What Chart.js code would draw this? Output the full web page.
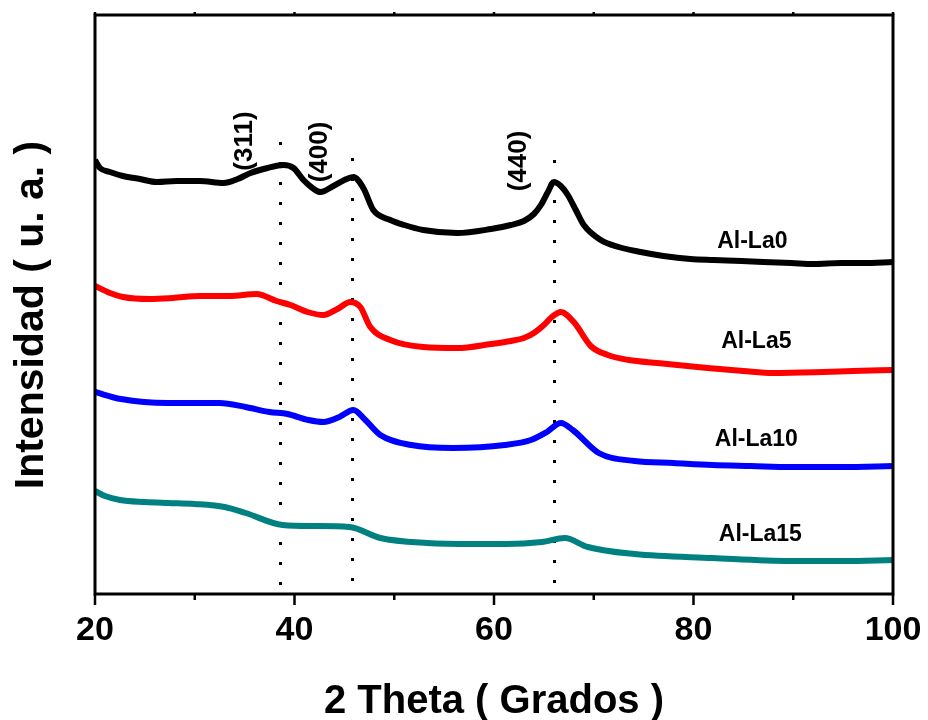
<!DOCTYPE html>
<html lang="es">
<head>
<meta charset="UTF-8">
<title>DRX Al-La</title>
<style>
  body { margin: 0; background: #fff; }
  .containerCanva { position: relative; width: 928px; height: 720px; }
</style>
</head>
<body>
<div class="containerCanva"><canvas id="myChart"></canvas></div>
<script src="https://cdn.jsdelivr.net/npm/chart.js@4/dist/chart.umd.min.js"></script>
<script>
// muestras
const muestras = ['Al-La0', 'Al-La5', 'Al-La10', 'Al-La15'];
const colores = ['#000000', '#ff0000', '#0000ff', '#008080'];

// 2 theta / intensidad (u. a.)
const x_La0 = [20, 20.5, 21.5, 22.8, 24.5, 26.2, 28.2, 30.5, 32.9, 34.3, 35.6, 37.3, 38.9, 39.9, 40.9, 41.8, 42.6, 43.9, 45, 45.9, 46.9, 47.9, 49.6, 51, 52.9, 56.3, 59.7, 61.7, 63, 64, 64.7, 65.4, 66, 66.7, 67.4, 68.2, 69, 70.7, 72.5, 74.7, 77, 79.7, 82, 84.8, 87, 89.8, 92, 94.8, 97, 100];
const y_La0 = [434, 426, 422, 418, 415, 412, 413, 413, 411, 415, 421, 426, 429, 426, 414, 406, 402, 408, 414, 417, 406, 384, 374, 369, 364, 361, 365, 369, 373, 380, 389, 402, 412, 408, 399, 384, 369, 354, 347, 342, 338, 335, 334, 333, 332, 331, 330, 331, 331, 332];

const x_La5 = [20, 21.5, 22.8, 25.5, 27.8, 30.5, 33.5, 36.2, 38.2, 39.6, 41.3, 42.9, 44.3, 45.6, 46.6, 47.6, 49.6, 52.9, 56.3, 59.7, 61.7, 63, 64, 65, 65.8, 66.7, 68, 69.7, 71.4, 73.5, 76.4, 81.4, 85, 88, 93, 96, 100];
const y_La5 = [308, 301, 297, 295, 296, 298, 298, 300, 293, 289, 282, 279, 285, 292, 287, 267, 254, 247, 246, 250, 253, 256, 261, 269, 277, 282, 272, 248, 239, 234, 231, 226, 223, 221, 222, 223, 224];

const x_La10 = [20, 22.6, 27.3, 32.5, 35.1, 37.5, 39.3, 41.4, 42.9, 44.5, 45.9, 47.1, 48.6, 51.7, 55.9, 61.1, 63.7, 65.3, 66.7, 67.9, 70.5, 74.1, 78, 81.9, 85.8, 89.7, 95, 100];
const y_La10 = [202, 195, 191, 191, 187, 182, 180, 174, 172, 177, 184, 174, 159, 149, 146, 149, 154, 162, 171, 164, 141, 133, 131, 129, 128, 127, 127, 128];

const x_La15 = [20, 21, 22.5, 25, 27.3, 30, 33, 35.1, 38.8, 41.9, 45.5, 48.6, 53.3, 58, 61.2, 64.8, 67.1, 69.4, 74.1, 81.9, 89.7, 95, 100];
const y_La15 = [103, 98, 94, 92, 91, 90, 87, 81, 69, 68, 67, 56, 51, 50, 50, 52, 56, 47, 40, 36, 33, 33, 34];

// picos (hkl)
const planos = ['(311)', '(400)', '(440)'];
const picos = [38.5, 45.8, 66.0];
const picosTope = [452, 436, 434];
const planosX = [35.05, 42.55, 62.5];
const planosY = [453, 442, 433];

// etiquetas de muestra
const etiquetaX = [85.9, 86.3, 86.3, 86.7];
const etiquetaY = [352, 252, 154, 59];

const xTicks = [20, 40, 60, 80, 100];
const FUENTE = "'Liberation Sans', Arial, sans-serif";

const xs = [x_La0, x_La5, x_La10, x_La15];
const ys = [y_La0, y_La5, y_La10, y_La15];

const anotaciones = {
    id: 'anotaciones',
    beforeDatasetsDraw(chart) {
        const ctx = chart.ctx;
        const sx = chart.scales.x, sy = chart.scales.y;
        ctx.save();
        // lineas punteadas
        ctx.strokeStyle = '#000';
        ctx.lineWidth = 3;
        ctx.setLineDash([3, 17]);
        picos.forEach((p, i) => {
            const px = Math.round(sx.getPixelForValue(p)) + 0.5;
            ctx.beginPath();
            ctx.moveTo(px, sy.getPixelForValue(picosTope[i]));
            ctx.lineTo(px, sy.getPixelForValue(2));
            ctx.stroke();
        });
        ctx.setLineDash([]);
        // planos
        ctx.fillStyle = '#000';
        ctx.font = 'bold 26px ' + FUENTE;
        ctx.textAlign = 'center';
        ctx.textBaseline = 'middle';
        planos.forEach((t, i) => {
            ctx.save();
            ctx.translate(sx.getPixelForValue(planosX[i]), sy.getPixelForValue(planosY[i]));
            ctx.rotate(-Math.PI / 2);
            ctx.fillText(t, 0, 0);
            ctx.restore();
        });
        // muestras
        ctx.font = 'bold 23px ' + FUENTE;
        muestras.forEach((m, i) => {
            ctx.fillText(m, sx.getPixelForValue(etiquetaX[i]), sy.getPixelForValue(etiquetaY[i]));
        });
        ctx.restore();
    },
    afterDraw(chart) {
        const ctx = chart.ctx;
        const a = chart.chartArea;
        const sx = chart.scales.x;
        ctx.save();
        ctx.strokeStyle = '#000';
        ctx.lineWidth = 3;
        ctx.strokeRect(a.left, a.top, a.right - a.left, a.bottom - a.top);
        ctx.lineWidth = 2.5;
        for (let v = 20; v <= 100; v += 10) {
            const px = sx.getPixelForValue(v);
            const largo = v % 20 === 0 ? 11 : 6;
            ctx.beginPath();
            ctx.moveTo(px, a.bottom);
            ctx.lineTo(px, a.bottom + largo);
            ctx.moveTo(px, a.top);
            ctx.lineTo(px, a.top - 3);
            ctx.stroke();
        }
        // titulo eje y
        ctx.fillStyle = '#000';
        ctx.font = 'bold 41px ' + FUENTE;
        ctx.textAlign = 'center';
        ctx.textBaseline = 'middle';
        ctx.translate(32, 315);
        ctx.rotate(-Math.PI / 2);
        ctx.fillText('Intensidad ( u. a. )', 0, 0);
        ctx.restore();
    }
};

const ctx = document.getElementById('myChart').getContext('2d');
const myChart = new Chart(ctx, {
    type: 'line',
    data: {
        datasets: muestras.map((m, i) => ({
            label: m,
            data: xs[i].map((x, j) => ({ x: x, y: ys[i][j] })),
            borderColor: colores[i],
            backgroundColor: colores[i],
            borderWidth: 6,
            pointRadius: 0,
            cubicInterpolationMode: 'monotone',
            fill: false
        }))
    },
    options: {
        responsive: true,
        maintainAspectRatio: false,
        animation: false,
        layout: { padding: { top: 15, right: 35, left: 0, bottom: 0 } },
        plugins: {
            legend: { display: false },
            tooltip: { enabled: false }
        },
        scales: {
            x: {
                type: 'linear',
                min: 20,
                max: 100,
                afterBuildTicks: (s) => { s.ticks = xTicks.map(v => ({ value: v })); },
                ticks: {
                    color: '#000',
                    font: { family: FUENTE, size: 34, weight: 'bold' },
                    padding: 16,
                    maxRotation: 0
                },
                grid: { display: false, drawTicks: false },
                border: { display: false },
                title: {
                    display: true,
                    text: '2 Theta ( Grados )',
                    color: '#000',
                    font: { family: FUENTE, size: 40, weight: 'bold' },
                    padding: { top: 0, bottom: -6 }
                },
                afterFit: (s) => { s.height = 126; s.paddingLeft = 0; s.paddingRight = 0; }
            },
            y: {
                min: 0,
                max: 579,
                ticks: { display: false },
                grid: { display: false, drawTicks: false },
                border: { display: false },
                afterFit: (s) => { s.width = 95; }
            }
        }
    },
    plugins: [anotaciones]
});
</script>
</body>
</html>
